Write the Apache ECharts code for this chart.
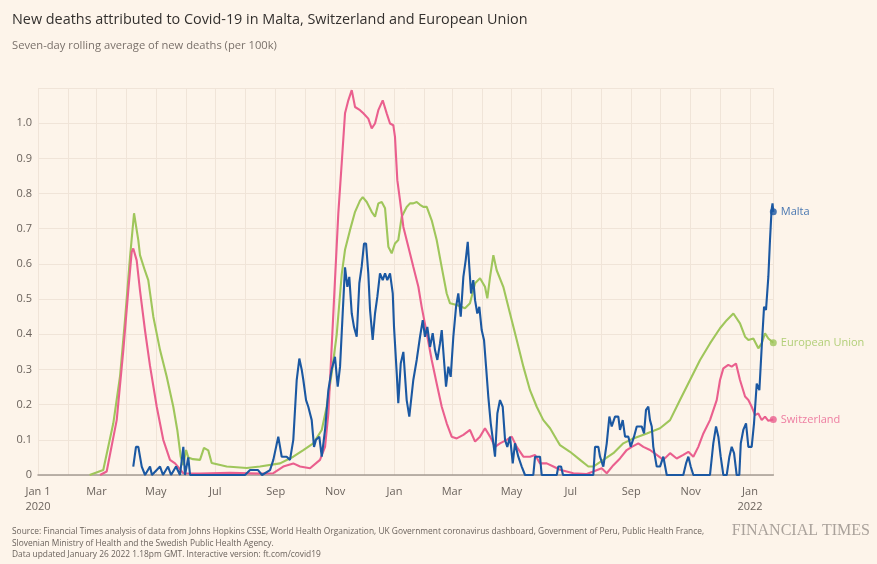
<!DOCTYPE html>
<html>
<head>
<meta charset="utf-8">
<script src="https://cdn.jsdelivr.net/npm/echarts@6/dist/echarts.min.js"></script>
<style>
html,body{margin:0;padding:0;background:#fdf4ea;}
#chart{width:877px;height:564px;}
</style>
</head>
<body>
<div id="chart"></div>
<script>
// Days since 1 Jan 2020 and values (seven-day rolling average of new deaths per 100k)
const euDays = [53,67,77.3,84.2,89.3,94.5,98.6,103,104.7,109.9,113.2,118.4,125.3,132.1,138.9,143,146.5,149.2,152,154.3,159.1,166.3,170.4,174.8,178.3,193.7,214.3,227.9,248.5,262.1,272.4,282.6,291.3,296.4,301.5,306.7,311.8,315.2,320.3,325.5,330.6,333.4,337.5,342.6,346,349.4,352.9,356.3,359.7,363.1,366.5,369.9,373.4,378.5,381.9,385.3,388.8,392.2,395.6,399.1,404.2,409.3,414.5,419.6,423,429.9,438.4,443.5,448.7,453.8,458.9,461.3,464.1,467.5,470.9,477.7,484.6,491.5,498.3,505.1,512,518.8,525.7,532.6,535.9,546.2,556.5,565,570.1,580.4,590.7,600.9,611.2,625,638.6,648.9,659.1,669.4,679.7,689.9,700.2,707.1,713.9,720.7,725.9,729.3,734.4,739.5,743,746.4,749.8,754.9];
const euValues = [0,0.014,0.147,0.28,0.44,0.62,0.744,0.667,0.625,0.58,0.554,0.45,0.355,0.28,0.194,0.128,0.052,0.028,0.071,0.05,0.045,0.043,0.077,0.07,0.034,0.024,0.02,0.024,0.033,0.052,0.071,0.09,0.128,0.194,0.289,0.4,0.57,0.64,0.696,0.748,0.78,0.79,0.776,0.748,0.734,0.772,0.776,0.758,0.649,0.63,0.658,0.668,0.734,0.762,0.772,0.772,0.776,0.768,0.762,0.762,0.724,0.668,0.59,0.516,0.488,0.483,0.474,0.488,0.545,0.559,0.535,0.502,0.563,0.625,0.582,0.535,0.459,0.384,0.308,0.241,0.194,0.156,0.133,0.1,0.085,0.066,0.043,0.024,0.024,0.043,0.062,0.09,0.104,0.118,0.133,0.156,0.213,0.27,0.327,0.374,0.417,0.44,0.459,0.431,0.393,0.384,0.388,0.36,0.374,0.403,0.388,0.376];

const swissDays = [63.7,70.5,80.8,87.6,92.7,96.2,97.8,101.3,104.7,109.9,115,121.9,128.6,135.5,140.7,149.2,166.3,197.1,227.9,241.6,251.8,262.1,269,279.3,289.5,294.7,298.1,301.5,304.9,308.3,311.8,315.2,318.6,322.1,325.5,330.6,334,339.1,342.6,346,349.4,353.9,358,361.4,364.8,366.5,368.9,371.7,375.1,380.2,385.3,390.5,393.9,399.1,404.2,409.3,414.5,419.6,424.7,429.9,436.7,443.5,448.7,453.8,458.9,464.1,469.2,474.3,481.2,486.4,491.5,498.3,505.1,510.3,515.4,522.3,529.1,535.9,549.6,563.3,570.1,578.7,583.9,590.7,597.5,604.4,609.6,616.3,621.5,628.3,635.2,642,648.9,655.7,662.5,667.7,672.8,677.9,683.1,689.9,696.8,700.2,703.6,708.7,712.2,716.6,720.7,725.9,729.3,732.7,736.2,739.5,743,746.4,749.8,754.9];
const swissValues = [0,0.01,0.156,0.355,0.525,0.634,0.644,0.61,0.525,0.41,0.31,0.194,0.1,0.043,0.033,0.005,0.004,0.006,0.004,0.005,0.024,0.033,0.024,0.019,0.043,0.08,0.175,0.364,0.554,0.743,0.886,1.028,1.065,1.094,1.046,1.037,1.028,1.013,0.985,0.999,1.037,1.065,1.028,0.999,0.994,0.961,0.838,0.78,0.705,0.649,0.592,0.535,0.478,0.403,0.327,0.26,0.194,0.147,0.109,0.104,0.114,0.128,0.095,0.109,0.133,0.109,0.08,0.09,0.1,0.109,0.08,0.052,0.052,0.057,0.033,0.033,0.024,0.015,0.005,0.003,0.01,0.019,0.005,0.028,0.047,0.071,0.08,0.09,0.08,0.071,0.057,0.043,0.062,0.047,0.057,0.066,0.052,0.08,0.118,0.156,0.213,0.27,0.303,0.313,0.308,0.317,0.27,0.223,0.213,0.194,0.17,0.175,0.156,0.166,0.154,0.158];

const maltaDays = [97.8,100.6,103,106.5,109.9,115,117,125.3,128.3,133.5,136.6,141.7,145.8,149.2,150.9,154.3,156.1,212.5,217.7,225.9,230,238.2,241.6,246.7,248.5,250.2,255.3,258.7,262.1,265.6,268.3,270.7,272.4,275.2,277.5,281,283.4,285.4,288.8,291.3,294.7,298.1,301.5,304.9,307.7,310.1,312.8,315.2,317.6,319.6,322.1,324.4,327.2,329.9,332.3,334.7,336.8,339.1,340.9,343.6,346,348.4,351.1,353.9,356.3,358.6,361.4,364.2,365.5,368.3,369.9,372.4,375.1,378.5,381.2,385.3,388.8,392.2,395,397.3,399.7,402.5,405.2,407.6,410,412.7,414.5,416.8,418.9,421.3,423.7,426.4,429.2,431.5,434,436.7,439.1,441.2,442.8,444.6,446.9,448.7,451,453.1,455.5,457.9,460,462.3,464.8,467.5,469.2,471.6,474.3,477.1,479.5,481.8,484.6,487.4,489.7,493.1,496.6,500,508.5,510.3,515.4,517.1,532.6,534.2,537,539,570.1,571.9,575.3,577,580.4,583.9,586.6,589,592.4,595.8,597.5,600.3,602.7,606.1,608.5,611.9,614.7,619.8,622.2,624.2,626.6,628.3,630.1,631.7,635.2,638.6,642,645.5,662.5,665.3,667.7,670.1,672.8,689.9,693.3,696.1,698.5,700.9,703.6,707.1,709.8,712.2,714.6,717.3,720,721.5,724.1,726.9,729.3,732.7,735.1,737.9,740.6,743,745.4,747.4,749.8,751.5,753.1,754.1,754.9];
const maltaValues = [0.024,0.08,0.08,0.024,0,0.024,0,0.024,0,0.024,0,0.024,0,0.08,0,0.05,0,0,0.014,0.014,0,0.014,0.043,0.109,0.08,0.052,0.052,0.043,0.1,0.27,0.331,0.3,0.27,0.213,0.194,0.156,0.08,0.1,0.109,0.052,0.128,0.241,0.3,0.336,0.251,0.308,0.459,0.59,0.535,0.563,0.459,0.421,0.393,0.545,0.592,0.658,0.658,0.573,0.469,0.384,0.459,0.507,0.573,0.554,0.573,0.554,0.573,0.516,0.421,0.289,0.204,0.317,0.35,0.213,0.166,0.27,0.327,0.393,0.44,0.393,0.421,0.364,0.403,0.355,0.327,0.374,0.412,0.327,0.251,0.308,0.279,0.393,0.478,0.516,0.45,0.563,0.611,0.663,0.592,0.516,0.554,0.497,0.459,0.478,0.412,0.384,0.308,0.223,0.147,0.09,0.052,0.175,0.213,0.194,0.1,0.08,0.109,0.033,0.09,0.052,0.024,0,0,0.052,0.052,0,0,0.024,0.024,0,0,0.08,0.08,0.052,0.024,0.09,0.166,0.138,0.166,0.166,0.128,0.156,0.109,0.109,0.08,0.109,0.138,0.138,0.118,0.185,0.194,0.156,0.138,0.08,0.024,0.024,0.052,0,0,0.033,0.052,0.024,0,0,0.09,0.138,0.109,0.052,0,0,0.052,0.08,0.062,0,0,0.09,0.128,0.147,0.08,0.08,0.147,0.26,0.241,0.364,0.478,0.469,0.563,0.668,0.753,0.772,0.748];

const seriesNames = ['Malta', 'European Union', 'Switzerland'];
const yTicks = ['0','0.1','0.2','0.3','0.4','0.5','0.6','0.7','0.8','0.9','1.0'];
const monthNames = ['Jan','Feb','Mar','Apr','May','Jun','Jul','Aug','Sep','Oct','Nov','Dec'];
const lastDay = 755;

const DAY = 86400000;
const base = Date.UTC(2020, 0, 1);
const ts = d => base + d * DAY;
const pairs = (days, vals) => days.map((d, i) => [ts(d), vals[i]]);

const colors = { 'Malta': '#1b58a2', 'European Union': '#9fc65b', 'Switzerland': '#ea5f8e' };
const font = '"Open Sans", "Noto Sans", sans-serif';

const seriesData = {
  'Malta': pairs(maltaDays, maltaValues),
  'European Union': pairs(euDays, euValues),
  'Switzerland': pairs(swissDays, swissValues)
};

const lineSeries = ['European Union', 'Switzerland', 'Malta'].map(name => ({
  name, type: 'line', data: seriesData[name], showSymbol: false, symbol: 'none',
  lineStyle: { color: colors[name], width: 2.1 }, itemStyle: { color: colors[name] },
  z: 3, animation: false
}));
const endSeries = seriesNames.map(name => {
  const d = seriesData[name];
  return {
    name: name + ' end', type: 'scatter', data: [d[d.length - 1]], symbol: 'circle', symbolSize: 7,
    itemStyle: { color: colors[name] }, z: 5, animation: false,
    label: { show: true, position: 'right', distance: 4, formatter: name, color: colors[name], fontSize: 11, fontFamily: font }
  };
});

const chart = echarts.init(document.getElementById('chart'), null, { renderer: 'canvas' });
chart.setOption({
  backgroundColor: '#fdf4ea',
  animation: false,
  title: [
    { text: 'New deaths attributed to Covid-19 in Malta, Switzerland and European Union', left: 7, top: 8,
      textStyle: { fontSize: 14.4, fontWeight: 'normal', color: '#33302e', fontFamily: font } },
    { text: 'Seven-day rolling average of new deaths (per 100k)', left: 7, top: 35,
      textStyle: { fontSize: 11.2, fontWeight: 'normal', color: '#7a716b', fontFamily: font } }
  ],
  grid: { left: 38, right: 877 - 773.4, top: 88, bottom: 89, containLabel: false },
  xAxis: {
    type: 'time', min: ts(0), max: ts(lastDay), splitNumber: 25,
    minInterval: 28 * DAY, maxInterval: 31 * DAY,
    axisLine: { show: true, lineStyle: { color: '#a49a92', width: 1.5 } },
    axisTick: { show: false },
    splitLine: { show: true, lineStyle: { color: '#f0e4d8', width: 1 } },
    axisLabel: {
      margin: 9, color: '#6b635d', fontSize: 11, fontFamily: font, lineHeight: 15,
      showMinLabel: true, showMaxLabel: false, hideOverlap: false,
      formatter: function (value) {
        const dt = new Date(value);
        if (dt.getUTCDate() !== 1) return '';
        const m = dt.getUTCMonth(), y = dt.getUTCFullYear();
        if (m % 2) return '';
        if (m === 0 && y === 2020) return 'Jan 1\n2020';
        if (m === 0 && y === 2022) return 'Jan\n2022';
        return monthNames[m];
      }
    }
  },
  yAxis: {
    type: 'value', min: 0, max: 1.1, interval: 0.1,
    axisLine: { show: false }, axisTick: { show: false },
    splitLine: { show: true, lineStyle: { color: '#f0e4d8', width: 1 } },
    axisLabel: {
      margin: 6, color: '#6b635d', fontSize: 11, fontFamily: font,
      formatter: function (v) {
        const i = Math.round(v * 10);
        return i < yTicks.length ? yTicks[i] : '';
      }
    }
  },
  series: lineSeries.concat(endSeries),
  graphic: [
    { type: 'text', left: 12, top: 526, style: {
      text: 'Source: Financial Times analysis of data from Johns Hopkins CSSE, World Health Organization, UK Government coronavirus dashboard, Government of Peru, Public Health France,\nSlovenian Ministry of Health and the Swedish Public Health Agency.\nData updated January 26 2022 1.18pm GMT. Interactive version: ft.com/covid19',
      font: '8.4px ' + font, fill: '#6b635d', lineHeight: 11.5 } },
    { type: 'text', right: 7, top: 523, style: {
      text: 'FINANCIAL TIMES', font: '16px "Liberation Serif", "DejaVu Serif", serif', fill: '#aaa29b' } }
  ]
});
</script>
</body>
</html>
